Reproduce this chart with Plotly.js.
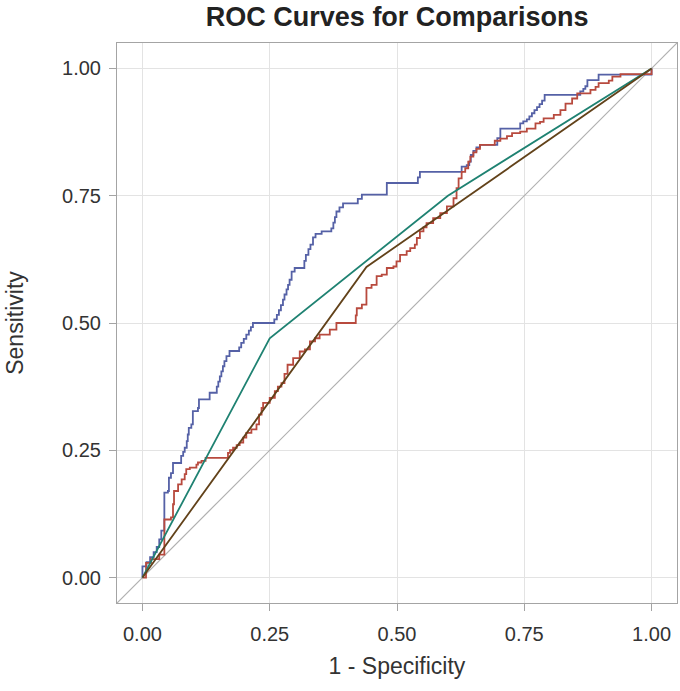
<!DOCTYPE html>
<html>
<head>
<meta charset="utf-8">
<script src="https://cdn.plot.ly/plotly-3.0.1.min.js"></script>
<style>
  html, body { margin: 0; padding: 0; background: #ffffff; }
  #chart { width: 680px; height: 691px; }
</style>
</head>
<body>
<div id="chart"></div>
<script>
// ROC step curves: false positive rate (1 - specificity) vs sensitivity
const blueFpr = [0, 0, 0.008, 0.015, 0.022, 0.028, 0.033, 0.037, 0.043, 0.043,
  0.050, 0.052, 0.056, 0.060, 0.076, 0.080, 0.083, 0.087, 0.089, 0.091,
  0.096, 0.099, 0.109, 0.111, 0.132, 0.146, 0.149, 0.152, 0.155, 0.158,
  0.161, 0.165, 0.171, 0.190, 0.194, 0.199, 0.204, 0.209, 0.213, 0.217,
  0.259, 0.264, 0.268, 0.272, 0.276, 0.279, 0.283, 0.286, 0.289, 0.293,
  0.299, 0.318, 0.321, 0.326, 0.330, 0.335, 0.340, 0.352, 0.371, 0.375,
  0.378, 0.381, 0.387, 0.394, 0.423, 0.431, 0.480, 0.541, 0.545, 0.627,
  0.637, 0.642, 0.645, 0.650, 0.656, 0.663, 0.697, 0.703, 0.742, 0.748,
  0.755, 0.760, 0.765, 0.770, 0.775, 0.780, 0.785, 0.790, 0.860, 0.866,
  0.870, 0.874, 0.896, 1.0];
const blueTpr = [0, 0.022, 0.03, 0.04, 0.05, 0.06, 0.075, 0.092, 0.098, 0.167,
  0.170, 0.196, 0.205, 0.225, 0.239, 0.247, 0.255, 0.268, 0.281, 0.294,
  0.301, 0.327, 0.333, 0.350, 0.363, 0.375, 0.385, 0.395, 0.405, 0.415,
  0.425, 0.435, 0.445, 0.452, 0.461, 0.469, 0.477, 0.485, 0.492, 0.500,
  0.507, 0.516, 0.525, 0.535, 0.546, 0.556, 0.566, 0.575, 0.585, 0.601,
  0.608, 0.622, 0.634, 0.645, 0.654, 0.668, 0.675, 0.680, 0.686, 0.697,
  0.708, 0.719, 0.727, 0.735, 0.744, 0.752, 0.775, 0.786, 0.797, 0.807,
  0.810, 0.817, 0.830, 0.838, 0.845, 0.850, 0.863, 0.882, 0.892, 0.896,
  0.900, 0.906, 0.912, 0.918, 0.924, 0.930, 0.937, 0.948, 0.955, 0.960,
  0.965, 0.977, 0.988, 1.0];

const redFpr = [0, 0.007, 0.017, 0.033, 0.043, 0.043, 0.056, 0.060, 0.062, 0.070,
  0.077, 0.083, 0.086, 0.093, 0.106, 0.109, 0.116, 0.124, 0.168, 0.172,
  0.178, 0.185, 0.191, 0.198, 0.204, 0.214, 0.224, 0.229, 0.234, 0.237,
  0.250, 0.260, 0.266, 0.273, 0.279, 0.285, 0.296, 0.309, 0.319, 0.329,
  0.339, 0.348, 0.368, 0.381, 0.419, 0.421, 0.431, 0.440, 0.450, 0.460,
  0.470, 0.480, 0.493, 0.499, 0.506, 0.519, 0.526, 0.535, 0.539, 0.545,
  0.552, 0.558, 0.571, 0.585, 0.598, 0.611, 0.617, 0.621, 0.627, 0.634,
  0.640, 0.644, 0.650, 0.656, 0.663, 0.692, 0.703, 0.716, 0.726, 0.742,
  0.755, 0.772, 0.781, 0.788, 0.808, 0.821, 0.831, 0.844, 0.854, 0.880,
  0.890, 0.896, 0.916, 0.923, 0.939, 1.0];
const redTpr = [0, 0.029, 0.036, 0.045, 0.052, 0.114, 0.118, 0.144, 0.170, 0.183,
  0.193, 0.203, 0.213, 0.216, 0.222, 0.226, 0.229, 0.235, 0.245, 0.250,
  0.255, 0.260, 0.265, 0.275, 0.284, 0.291, 0.301, 0.320, 0.333, 0.343,
  0.353, 0.366, 0.375, 0.382, 0.400, 0.418, 0.431, 0.444, 0.448, 0.464,
  0.470, 0.477, 0.487, 0.500, 0.515, 0.529, 0.536, 0.569, 0.575, 0.592,
  0.595, 0.608, 0.611, 0.621, 0.634, 0.641, 0.647, 0.654, 0.667, 0.680,
  0.688, 0.696, 0.706, 0.716, 0.729, 0.745, 0.765, 0.784, 0.797, 0.804,
  0.817, 0.827, 0.835, 0.842, 0.850, 0.858, 0.862, 0.867, 0.873, 0.876,
  0.882, 0.892, 0.895, 0.902, 0.909, 0.918, 0.931, 0.941, 0.951, 0.958,
  0.964, 0.971, 0.976, 0.984, 0.989, 1.0];

// Coarse classifiers with few cut points
const tealFpr = [0, 0.25, 0.60, 1];
const tealTpr = [0, 0.47, 0.75, 1];
const brownFpr = [0, 0.44, 1];
const brownTpr = [0, 0.61, 1];

// Axis settings
const axisRange = [-0.05, 1.05];
const tickVals = [0, 0.25, 0.5, 0.75, 1];
const tickText = ['0.00', '0.25', '0.50', '0.75', '1.00'];

const FONT = 'Liberation Sans, Arial, sans-serif';

const traces = [
  { x: axisRange, y: axisRange, mode: 'lines', line: { color: '#b0b0b0', width: 1.2 }, hoverinfo: 'skip' },
  { x: blueFpr, y: blueTpr, mode: 'lines', line: { color: '#5561a6', width: 1.8, shape: 'hv' } },
  { x: redFpr, y: redTpr, mode: 'lines', line: { color: '#b84a3e', width: 1.8, shape: 'hv' } },
  { x: tealFpr, y: tealTpr, mode: 'lines', line: { color: '#1f8272', width: 1.8 } },
  { x: brownFpr, y: brownTpr, mode: 'lines', line: { color: '#62421a', width: 1.8 } }
];

const axisCommon = {
  range: axisRange,
  tickvals: tickVals,
  ticktext: tickText,
  showgrid: true,
  gridcolor: '#e3e3e3',
  gridwidth: 1,
  zeroline: false,
  showline: true,
  mirror: true,
  linecolor: '#a4a4a4',
  linewidth: 1,
  ticks: 'outside',
  ticklen: 7,
  tickcolor: '#a4a4a4',
  tickfont: { family: FONT, size: 20, color: '#333333' }
};

const layout = {
  width: 680,
  height: 691,
  margin: { l: 117, r: 3, t: 43, b: 88 },
  paper_bgcolor: '#ffffff',
  plot_bgcolor: '#ffffff',
  showlegend: false,
  title: {
    text: '<b>ROC Curves for Comparisons</b>',
    font: { family: FONT, size: 27, color: '#222222' },
    x: 0.584, xanchor: 'center', y: 0.976, yanchor: 'middle'
  },
  xaxis: Object.assign({}, axisCommon, {
    ticklabelstandoff: 6,
    title: { text: '1 - Specificity', font: { family: FONT, size: 23, color: '#333333' }, standoff: 13 }
  }),
  yaxis: Object.assign({}, axisCommon, {
    ticklabelstandoff: 4,
    title: { text: 'Sensitivity', font: { family: FONT, size: 23, color: '#333333' }, standoff: 32 }
  })
};

Plotly.newPlot('chart', traces, layout, { displayModeBar: false, staticPlot: true });
</script>
</body>
</html>
